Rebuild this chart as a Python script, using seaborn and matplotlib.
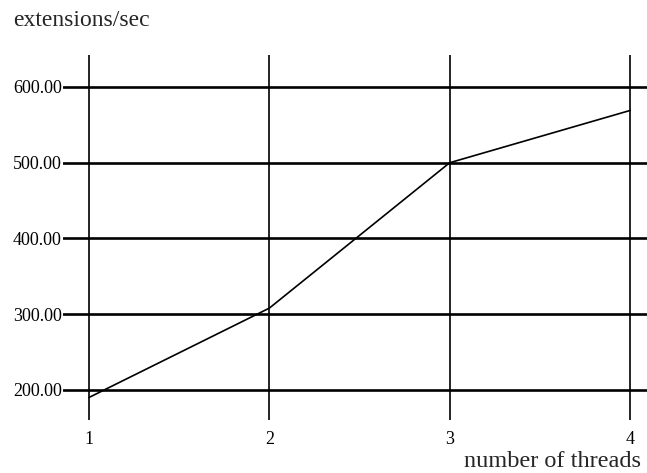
import matplotlib
matplotlib.use("Agg")
import matplotlib.pyplot as plt
import seaborn as sns
import pandas as pd

# values
threads = [1, 2, 3, 4]
ext_per_sec = [190, 308, 500, 569]
y_ticks = [200, 300, 400, 500, 600]

df = pd.DataFrame({"threads": threads, "ext": ext_per_sec})

sns.set_style("white")
plt.rcParams['font.family'] = ['Liberation Serif', 'DejaVu Serif']

fig = plt.figure(figsize=(6.47, 4.73), dpi=100)
ax = fig.add_axes([0.0974, 0.1121, 0.9026, 0.7717])

sns.lineplot(data=df, x="threads", y="ext", ax=ax, color="black", linewidth=1.2)

ax.set_xlim(0.856, 4.094)
ax.set_ylim(160.3, 642.3)
ax.set_xticks(threads)
ax.set_xticklabels([str(t) for t in threads])
ax.set_yticks(y_ticks)
ax.set_yticklabels([f"{v:.2f}" for v in y_ticks])

# heavy horizontal rules, thinner verticals
for v in y_ticks:
    ax.axhline(v, color="black", linewidth=1.9, zorder=1)
for t in threads:
    ax.axvline(t, color="black", linewidth=1.2, zorder=1)

ax.tick_params(axis="both", length=0, labelsize=13, colors="black")
ax.tick_params(axis="y", pad=1)
ax.tick_params(axis="x", pad=8)
ax.set_xlabel("")
ax.set_ylabel("")
for s in ax.spines.values():
    s.set_visible(False)

fig.text(0.02, 0.945, "extensions/sec", fontsize=17, ha="left", va="baseline")
fig.text(0.99, 0.013, "number of threads", fontsize=17.5, ha="right", va="baseline")

fig.savefig("out.png", dpi=100)
